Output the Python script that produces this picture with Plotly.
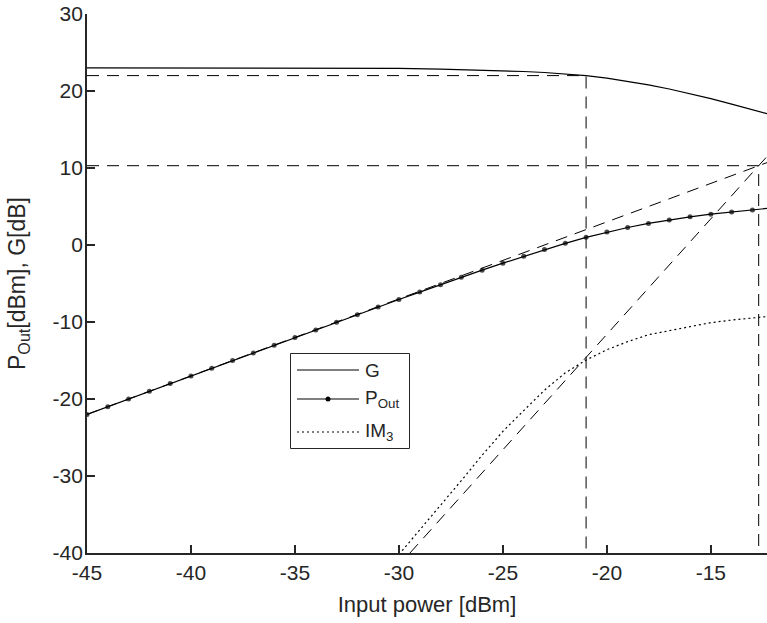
import plotly.graph_objects as go

# ---------------- data ----------------
pout_x = [-45, -44, -43, -42, -41, -40, -39, -38, -37, -36, -35, -34, -33, -32, -31,
          -30, -29, -28, -27, -26, -25, -24, -23, -22, -21, -20, -19, -18, -17, -16,
          -15, -14, -13, -12.3]
pout_y = [-22, -21, -20, -19, -18, -17, -16, -15.01, -14.01, -13.01, -12.02, -11.03,
          -10.04, -9.05, -8.06, -7.07, -6.12, -5.15, -4.2, -3.27, -2.36, -1.47, -0.6,
          0.22, 1.0, 1.68, 2.27, 2.8, 3.26, 3.66, 4.0, 4.3, 4.56, 4.75]

g_x = [-45, -40, -35, -30, -28, -26, -25, -24, -23, -22, -21, -20, -19, -18, -17,
       -16, -15, -14, -13, -12.3]
g_y = [23.0, 23.0, 22.98, 22.93, 22.85, 22.73, 22.64, 22.53, 22.4, 22.22, 22.0,
       21.68, 21.27, 20.8, 20.26, 19.66, 19.0, 18.3, 17.56, 17.05]

im3_x = [-30, -29, -28, -27, -26, -25, -24, -23, -22, -21, -20, -19, -18, -17, -16,
         -15, -14, -13, -12.3]
im3_y = [-40.2, -37.0, -33.9, -30.6, -27.3, -24.2, -21.5, -18.85, -16.6, -14.94,
         -13.6, -12.55, -11.65, -11.1, -10.55, -10.08, -9.75, -9.5, -9.3]

# linear extrapolations (small-signal)
fund_ext_x = [-45, -12.3]
fund_ext_y = [-22, 10.7]
im3_ext_x = [-29.47, -12.3]
im3_ext_y = [-40, 11.5]

# 1 dB compression point and 3rd-order intercept
p1db_in, p1db_gain = -21, 22
iip3, oip3 = -12.7, 10.3

x_range = [-45, -12.3]
y_range = [-40, 30]
x_ticks = [-45, -40, -35, -30, -25, -20, -15]
y_ticks = [-40, -30, -20, -10, 0, 10, 20, 30]

legend_names = ["G", "P<sub>Out</sub>", "IM<sub>3</sub>"]

# ---------------- figure ----------------
W, H = 767, 623
L, R, T, B = 87, 0, 14, 70
FONT = "Liberation Sans, Arial, Helvetica, sans-serif"
AX = "#262626"
DASH = "12px,8px"

fig = go.Figure()

# guide lines
fig.add_trace(go.Scatter(x=[x_range[0], p1db_in, p1db_in], y=[p1db_gain, p1db_gain, y_range[0]],
                         mode="lines", line=dict(color="black", width=1, dash=DASH),
                         showlegend=False, hoverinfo="skip"))
fig.add_trace(go.Scatter(x=[x_range[0], iip3, iip3], y=[oip3, oip3, y_range[0]],
                         mode="lines", line=dict(color="black", width=1, dash=DASH),
                         showlegend=False, hoverinfo="skip"))
fig.add_trace(go.Scatter(x=fund_ext_x, y=fund_ext_y, mode="lines",
                         line=dict(color="black", width=1, dash=DASH),
                         showlegend=False, hoverinfo="skip"))
fig.add_trace(go.Scatter(x=im3_ext_x, y=im3_ext_y, mode="lines",
                         line=dict(color="black", width=1, dash=DASH),
                         showlegend=False, hoverinfo="skip"))

# curves
fig.add_trace(go.Scatter(x=g_x, y=g_y, mode="lines", name="G",
                         line=dict(color="black", width=1.2), showlegend=False))
marker_sizes = [5] * (len(pout_x) - 1) + [0]
fig.add_trace(go.Scatter(x=pout_x, y=pout_y, mode="lines+markers", name="P_Out",
                         line=dict(color="black", width=1.2),
                         marker=dict(color="black", size=marker_sizes, line=dict(width=0)),
                         showlegend=False))
fig.add_trace(go.Scatter(x=im3_x, y=im3_y, mode="lines", name="IM3",
                         line=dict(color="black", width=1.2, dash="2px,3px"),
                         showlegend=False))

# ---------------- custom legend (paper coords) ----------------
pw, ph = W - L - R, H - T - B


def px(xp):
    return (xp - L) / pw


def py(yp):
    return (H - B - yp) / ph


shapes = []
shapes.append(dict(type="rect", xref="paper", yref="paper",
                   x0=px(290.5), x1=px(409.5), y0=py(448.5), y1=py(353.5),
                   line=dict(color=AX, width=1), fillcolor="white", layer="above"))
entry_y = [370, 399, 432]
styles = [dict(color="black", width=1.2),
          dict(color="black", width=1.2),
          dict(color="black", width=1.2, dash="2px,3px")]
for yy, st in zip(entry_y, styles):
    shapes.append(dict(type="line", xref="paper", yref="paper",
                       x0=px(297), x1=px(359), y0=py(yy), y1=py(yy),
                       line=st, layer="above"))
shapes.append(dict(type="circle", xref="paper", yref="paper",
                   x0=px(325.5), x1=px(330.5), y0=py(401.5), y1=py(396.5),
                   fillcolor="black", line=dict(width=0), layer="above"))

annotations = []
for yy, name in zip(entry_y, legend_names):
    annotations.append(dict(xref="paper", yref="paper", x=px(363), y=py(yy),
                            text=name, showarrow=False, xanchor="left", yanchor="middle",
                            font=dict(family=FONT, size=19, color=AX)))

fig.update_layout(
    width=W, height=H,
    margin=dict(l=L, r=R, t=T, b=B, pad=0),
    paper_bgcolor="white", plot_bgcolor="white",
    font=dict(family=FONT, size=21, color=AX),
    shapes=shapes, annotations=annotations,
    showlegend=False,
)
fig.update_xaxes(range=x_range, tickvals=x_ticks, ticktext=[str(v) for v in x_ticks],
                 showgrid=False, zeroline=False, showline=True, linecolor=AX, linewidth=1.8,
                 ticks="inside", ticklen=8, tickwidth=1.6, tickcolor=AX,
                 tickfont=dict(family=FONT, size=21, color=AX),
                 title=dict(text="Input power [dBm]", font=dict(family=FONT, size=22, color=AX),
                            standoff=14))
fig.update_yaxes(range=y_range, tickvals=y_ticks, ticktext=[str(v) for v in y_ticks],
                 showgrid=False, zeroline=False, showline=True, linecolor=AX, linewidth=1.8,
                 ticks="inside", ticklen=8, tickwidth=1.6, tickcolor=AX,
                 tickfont=dict(family=FONT, size=21, color=AX), ticklabelstandoff=-2,
                 title=dict(text="P<sub>Out</sub>[dBm], G[dB]",
                            font=dict(family=FONT, size=23, color=AX), standoff=20))

fig.write_html("out.html")
